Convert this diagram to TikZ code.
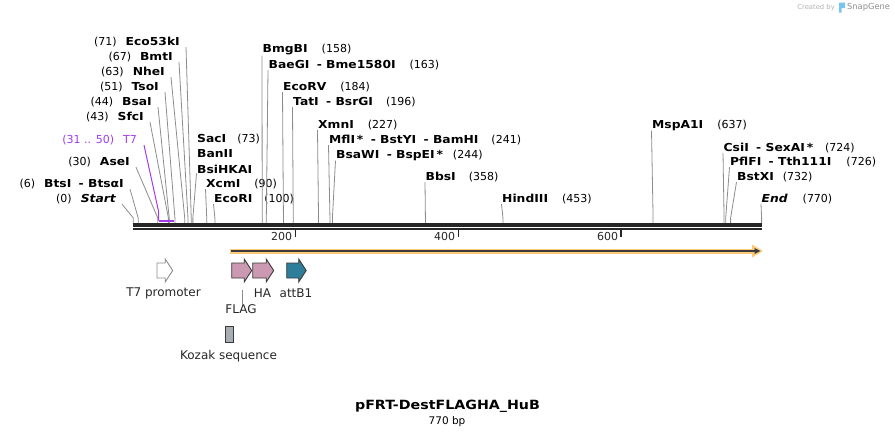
\documentclass[tikz,border=0pt]{standalone}
\usepackage{fontspec}
\setmainfont{DejaVu Sans}
\newfontfamily\enzfont[FakeStretch=1.12]{DejaVu Sans}
\usetikzlibrary{arrows.meta}

\definecolor{rulergray}{HTML}{262626}
\definecolor{cutgray}{HTML}{8C8C8C}
\definecolor{tvpurple}{HTML}{A23BEC}
\definecolor{tagpink}{HTML}{CC99B2}
\definecolor{attteal}{HTML}{2E7D99}
\definecolor{kozakgray}{HTML}{A8ADB3}
\definecolor{orfband}{HTML}{FBC97A}
\definecolor{orfline}{HTML}{3A3A3A}
\definecolor{logoblue}{HTML}{7CC4F0}

\newcommand\enz[1]{{\enzfont\bfseries #1}}
% feature arrow: left x, length, fill, outline
\newcommand\featarrow[4]{%
  \draw[featline, draw=#4, fill=#3] (#1,263) -- ++({#2-7.5},0) -- ++(0,-4) -- ({#1+#2},270.5)
    -- ({#1+#2-7.5},282) -- ++(0,-4) -- (#1,278) -- cycle;}

\begin{document}
\begin{tikzpicture}[x=1pt,y=-1pt,font=\fontsize{11}{13}\selectfont,
  lbl/.style={inner sep=0pt, text=black},
  cut/.style={cutgray, line width=0.8pt},
  featline/.style={line width=0.9pt, line join=miter},
  featlbl/.style={inner sep=0pt, text=black!85, font=\fontsize{12}{14}\selectfont},
  tickmark/.style={rulergray, line width=1.6pt},
]
\useasboundingbox (0,0) rectangle (895,437);

%\draw[help lines,yellow,thin] (0,0) grid[step=50] (895,437);

% cut sites on the ruler
\foreach \n in {0,6,30,43,44,51,63,67,71,73,90,100,158,163,184,196,227,241,244,358,453,637,724,726,732,770}
  \coordinate (s\n) at ({133.3+0.816*\n},224);
\coordinate (t7a) at ({133.3+0.816*31},220.5);
\coordinate (t7b) at ({133.3+0.816*50},220.5);

% labels left of the sites
\node [lbl, anchor=east] (eco53ki) at (180,42) {(71)\hspace{9pt}\enz{Eco53kI}};
\node [lbl, anchor=east] (bmti) at (173,57) {(67)\hspace{9pt}\enz{BmtI}};
\node [lbl, anchor=east] (nhei) at (165,72) {(63)\hspace{9pt}\enz{NheI}};
\node [lbl, anchor=east] (tsoi) at (159,87) {(51)\hspace{9pt}\enz{TsoI}};
\node [lbl, anchor=east] (bsai) at (152,102) {(44)\hspace{9pt}\enz{BsaI}};
\node [lbl, anchor=east] (sfci) at (144,117) {(43)\hspace{9pt}\enz{SfcI}};
\node [lbl, anchor=east, text=tvpurple] (t7) at (137,140) {(31 .. 50)\hspace{9pt}T7};
\node [lbl, anchor=east] (asei) at (130,162) {(30)\hspace{9pt}\enz{AseI}};
\node [lbl, anchor=east] (btsi) at (124,184) {(6)\hspace{9pt}\enz{BtsI\; - BtsαI}};
\node [lbl, anchor=east] (start) at (116,199) {(0)\hspace{9pt}\enz{\itshape Start}};

% labels right of the sites
\node [lbl, anchor=west] (saci) at (197,139) {\enz{SacI}\hspace{11pt}(73)};
\node [lbl, anchor=west] (banii) at (197,154) {\enz{BanII}};
\node [lbl, anchor=west] (bsihkai) at (197,169) {\enz{BsiHKAI}};
\node [lbl, anchor=west] (xcmi) at (206,184) {\enz{XcmI}\hspace{14pt}(90)};
\node [lbl, anchor=west] (ecori) at (214,199) {\enz{EcoRI}\hspace{12pt}(100)};
\node [lbl, anchor=west] (bmgbi) at (262.5,50) {\enz{BmgBI}\hspace{14pt}(158)};
\node [lbl, anchor=west] (baegi) at (268.5,65) {\enz{BaeGI\; - Bme1580I}\hspace{14pt}(163)};
\node [lbl, anchor=west] (ecorv) at (283,87) {\enz{EcoRV}\hspace{14pt}(184)};
\node [lbl, anchor=west] (tati) at (293,102) {\enz{TatI\; - BsrGI}\hspace{13pt}(196)};
\node [lbl, anchor=west] (xmni) at (318,125) {\enz{XmnI}\hspace{14pt}(227)};
\node [lbl, anchor=west] (mfli) at (329,140) {\enz{MflI\,*\; - BstYI\; - BamHI}\hspace{13pt}(241)};
\node [lbl, anchor=west] (bsawi) at (336,155) {\enz{BsaWI\; - BspEI\,*}\hspace{10pt}(244)};
\node [lbl, anchor=west] (bbsi) at (425.5,177) {\enz{BbsI}\hspace{13pt}(358)};
\node [lbl, anchor=west] (hindiii) at (502,199) {\enz{HindIII}\hspace{14pt}(453)};
\node [lbl, anchor=west] (mspa1i) at (652,125) {\enz{MspA1I}\hspace{14pt}(637)};
\node [lbl, anchor=west] (csii) at (723.5,148) {\enz{CsiI\; - SexAI\,*}\hspace{12pt}(724)};
\node [lbl, anchor=west] (pflfi) at (730,162) {\enz{PflFI\; - Tth111I}\hspace{15pt}(726)};
\node [lbl, anchor=west] (bstxi) at (737,177) {\enz{BstXI}\hspace{9pt}(732)};
\node [lbl, anchor=west] (endsite) at (761.5,199) {\enz{\itshape End}\hspace{15pt}(770)};

% cut lines
\foreach \lab/\n in {eco53ki/71,bmti/67,nhei/63,tsoi/51,bsai/44,sfci/43,asei/30,btsi/6,start/0}
  \draw[cut] ([xshift=6pt]\lab.south east) -- ([yshift=6pt]s\n) -- (s\n);
\foreach \lab/\n in {bsihkai/73,xcmi/90,ecori/100,bmgbi/158,baegi/163,ecorv/184,tati/196,xmni/227,mfli/241,bsawi/244,bbsi/358,hindiii/453,mspa1i/637,csii/724,pflfi/726,bstxi/732,endsite/770}
  \draw[cut] ([xshift=-0.5pt]\lab.south west) -- ([yshift=6pt]s\n) -- (s\n);
\draw[tvpurple, line width=1pt] ([xshift=7pt]t7.south east) -- ([yshift=9pt]t7a) -- (t7a);
\draw[tvpurple, line width=2pt] (t7a) -- (t7b);

% ruler
\draw[rulergray, line width=3.3pt] (133.3,225) -- (761.7,225);
\draw[rulergray, line width=2pt] (133.3,229) -- (761.7,229);
\foreach \t in {200,400,600} {
  \draw[tickmark] ({132.5+0.8145*\t},230) -- ++(0,7);
  \node [lbl, anchor=east, text=black!85] (tk\t) at ({129.5+0.8145*\t},236.5) {\t};
}

% long feature arrow
\draw[orfband, line width=5pt] (230,251) -- (755,251);
\fill[orfband] (752,244.5) -- (763,251) -- (752,257.5) -- cycle;
\draw[orfline, line width=1.6pt, -{Triangle[length=6pt,width=5.5pt]}] (231,251) -- (760.5,251);

% features
\featarrow{157}{15.7}{white}{cutgray}
\featarrow{231.7}{20}{tagpink}{orfline}
\featarrow{252.7}{21}{tagpink}{orfline}
\featarrow{286.7}{19.5}{attteal}{orfline}
\draw[featline, draw=orfline, fill=kozakgray] (225.3,326.3) rectangle (233.7,342.3);

\node [featlbl] (t7lbl) at (163.5,293) {T7 promoter};
\node [featlbl] (halbl) at (262.5,293) {HA};
\node [featlbl] (attlbl) at (296,293) {attB1};
\node [featlbl] (flaglbl) at (241,309.5) {FLAG};
\node [featlbl] (kozlbl) at (228.5,356) {Kozak sequence};
\coordinate (flagmark) at (242.7,290);
\draw[cutgray, line width=0.8pt] (flagmark) -- (flagmark |- flaglbl.north);

% title
\node [lbl, font=\enzfont\bfseries\fontsize{12.7}{14}\selectfont] (title) at (447.5,406) {pFRT-DestFLAGHA\_HuB};
\node [lbl, font=\fontsize{10.5}{12}\selectfont] (bplen) at (447,421.5) {770 bp};

% watermark
\node [lbl, anchor=east, text=black!30, font=\fontsize{6.8}{8}\selectfont] (madeby) at (835,7.5) {Created by};
\fill[logoblue] (839,2.5) -- (845,2.5) -- (845,8) -- (841.5,8) -- (841.5,12.5) -- (839,12.5) -- cycle;
\node [lbl, anchor=west, text=black!45, font=\fontsize{8.3}{10}\selectfont] (snapgene) at (847,7.5) {SnapGene};
\end{tikzpicture}
\end{document}
